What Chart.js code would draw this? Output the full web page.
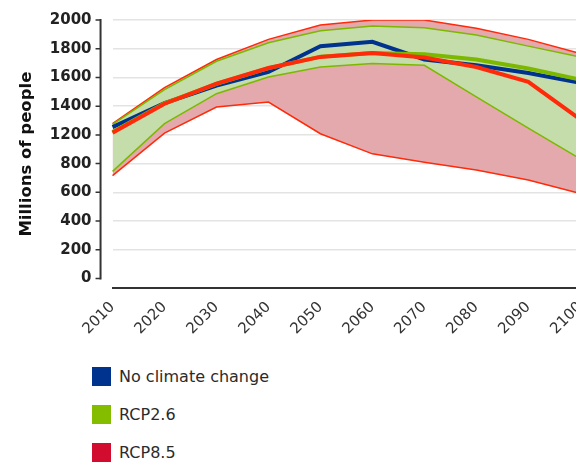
<!DOCTYPE html>
<html>
<head>
<meta charset="utf-8">
<script src="https://cdn.jsdelivr.net/npm/chart.js@4"></script>
<style>
  body { margin: 0; background: #fff; overflow: hidden; font-family: "DejaVu Sans", sans-serif; }
  #wrap { position: absolute; left: 0; top: 0; width: 595px; height: 345px; }
  #legend { position: absolute; left: 92px; top: 367px; }
  .item { display: flex; align-items: center; height: 19px; margin-bottom: 19px; font-size: 16px; color: #2b2b2b; }
  .box { width: 19px; height: 19px; margin-right: 8px; }
</style>
</head>
<body>
<div id="wrap"><canvas id="chart"></canvas></div>
<div id="legend"></div>
<script>
const years = ["2010", "2020", "2030", "2040", "2050", "2060", "2070", "2080", "2090", "2100"];

const noClimate = [1254, 1422, 1543, 1638, 1818, 1848, 1725, 1685, 1631, 1562];

const rcp26Mid  = [1220, 1420, 1555, 1665, 1745, 1770, 1762, 1725, 1662, 1585];
const rcp26High = [1273, 1515, 1713, 1841, 1925, 1958, 1946, 1895, 1818, 1743];
const rcp26Low  = [746, 1278, 1487, 1603, 1673, 1697, 1685, 1464, 1247, 866];

const rcp85Mid  = [1215, 1417, 1557, 1666, 1743, 1771, 1739, 1673, 1569, 1308];
const rcp85High = [1278, 1529, 1725, 1865, 1965, 2000, 2000, 1942, 1865, 1767];
const rcp85Low  = [716, 1212, 1394, 1429, 1208, 936, 818, 756, 686, 592];

// tick labels as printed on the axis (evenly spaced, no 1000)
const yTickValues = [0, 200, 400, 600, 800, 1200, 1400, 1600, 1800, 2000];

const legendLabels = ["No climate change", "RCP2.6", "RCP8.5"];
const legendColors = ["#00338d", "#84bd00", "#d20c2f"];

const RED = "#ff2a0a";
const GREEN = "#7cb800";
const BLUE = "#00338d";

// value -> position on the printed axis
function toAxis(v) {
  for (let i = 0; i < yTickValues.length - 1; i++) {
    const a = yTickValues[i], b = yTickValues[i + 1];
    if (v <= b || i === yTickValues.length - 2) return i + (v - a) / (b - a);
  }
}

function line(label, data, color, width, fill, bg) {
  return {
    label,
    data: data.map(toAxis),
    borderColor: color,
    borderWidth: width,
    backgroundColor: bg || color,
    fill: fill === undefined ? false : fill,
    pointRadius: 0,
    tension: 0
  };
}

const yAxisLine = {
  id: "yAxisLine",
  afterDraw(chart) {
    const { ctx, chartArea } = chart;
    const y = chart.scales.y;
    const x = chartArea.left - 12;
    ctx.save();
    ctx.strokeStyle = "#333";
    ctx.lineWidth = 2;
    ctx.beginPath();
    ctx.moveTo(x, y.getPixelForValue(yTickValues.length - 1) - 1);
    ctx.lineTo(x, y.getPixelForValue(0) + 1);
    ctx.stroke();
    ctx.lineWidth = 1.5;
    ctx.beginPath();
    y.ticks.forEach(t => {
      const py = y.getPixelForValue(t.value);
      ctx.moveTo(x - 5, py);
      ctx.lineTo(x, py);
    });
    ctx.stroke();
    ctx.restore();
  }
};

const ctx = document.getElementById("chart").getContext("2d");
new Chart(ctx, {
  type: "line",
  data: {
    labels: years,
    datasets: [
      line("RCP8.5", rcp85Mid, RED, 4),
      line("RCP2.6", rcp26Mid, GREEN, 4),
      line("No climate change", noClimate, BLUE, 4),
      line("RCP2.6 high", rcp26High, GREEN, 1.5, 4, "#c5dcab"),
      line("RCP2.6 low", rcp26Low, GREEN, 1.5),
      line("RCP8.5 high", rcp85High, RED, 1.5, 6, "#e4a9ad"),
      line("RCP8.5 low", rcp85Low, RED, 1.5)
    ]
  },
  options: {
    responsive: true,
    maintainAspectRatio: false,
    animation: false,
    layout: { padding: { top: 20, left: 17, right: 0, bottom: 5 } },
    plugins: {
      legend: { display: false },
      tooltip: { enabled: false },
      filler: { drawTime: "beforeDatasetsDraw" }
    },
    scales: {
      x: {
        type: "category",
        offset: false,
        grid: { display: false },
        border: { display: true, color: "#333", width: 2 },
        ticks: {
          minRotation: 45,
          maxRotation: 45,
          padding: 2,
          color: "#333",
          font: { family: "DejaVu Sans", size: 15 }
        }
      },
      y: {
        min: -0.34,
        max: yTickValues.length - 1,
        afterBuildTicks: s => { s.ticks = yTickValues.map((_, i) => ({ value: i })); },
        grid: {
          drawTicks: true,
          tickLength: 17,
          tickColor: "rgba(0,0,0,0)",
          lineWidth: 1.5,
          color: c => (c.tick && c.tick.value === 0 ? "rgba(0,0,0,0)" : "#e3e3e3")
        },
        border: { display: false },
        title: {
          display: true,
          text: "Millions of people",
          color: "#111",
          padding: { top: 0, bottom: 9 },
          font: { family: "DejaVu Sans", size: 16.5, weight: "bold" }
        },
        ticks: {
          autoSkip: false,
          padding: 4,
          color: "#222",
          font: { family: "DejaVu Sans", size: 15, weight: "bold" },
          callback: v => yTickValues[v]
        }
      }
    }
  },
  plugins: [yAxisLine]
});

const legend = document.getElementById("legend");
legendLabels.forEach((label, i) => {
  const item = document.createElement("div");
  item.className = "item";
  item.innerHTML = `<span class="box" style="background:${legendColors[i]}"></span><span>${label}</span>`;
  legend.appendChild(item);
});
</script>
</body>
</html>
